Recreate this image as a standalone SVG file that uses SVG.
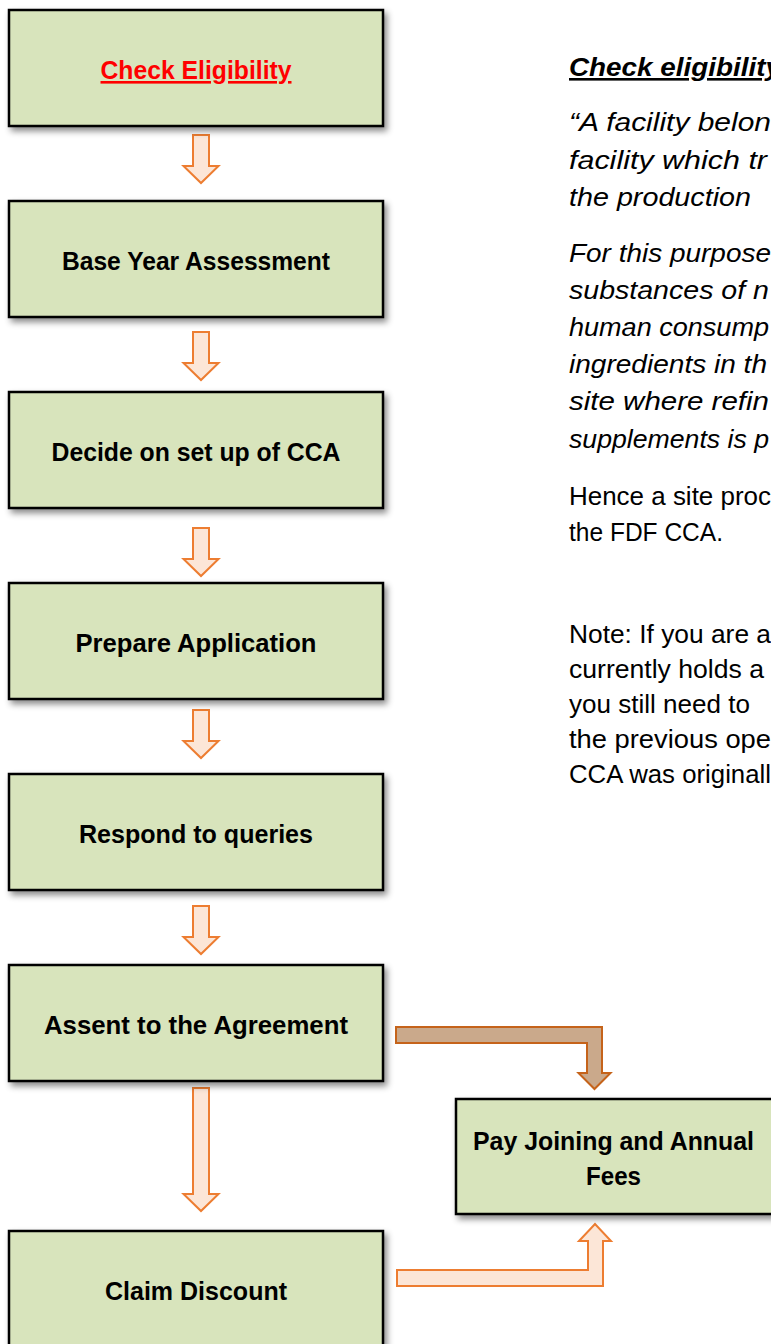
<svg xmlns="http://www.w3.org/2000/svg" xmlns:xlink="http://www.w3.org/1999/xlink" width="771" height="1344" viewBox="0 0 771 1344">
<style>
.box{fill:#d8e4bc;stroke:#000;stroke-width:2.5;filter:url(#sh)}
.lbl{font-family:"Liberation Sans",Arial,sans-serif;font-weight:bold;font-size:26px;fill:#000;text-anchor:middle}
.arr{fill:#fce6d7;stroke:#ed7d31;stroke-width:2}
.arrb{fill:#caa98b;stroke:#c5631a;stroke-width:2}
.txt{font-family:"Liberation Sans",Arial,sans-serif;font-size:26px;fill:#000}
.it{font-style:italic}
</style>
<defs>
<filter id="sh" x="-10%" y="-10%" width="130%" height="140%">
<feDropShadow dx="3" dy="4" stdDeviation="3" flood-color="#000" flood-opacity="0.45"/>
</filter>
<path id="da" d="M-8,0 H8 V31 H17.5 L0,48 L-17.5,31 H-8 Z"/>
</defs>

<g id="connectors">
<use xlink:href="#da" class="arr" x="201" y="135"/>
<use xlink:href="#da" class="arr" x="201" y="332"/>
<use xlink:href="#da" class="arr" x="201" y="528"/>
<use xlink:href="#da" class="arr" x="201" y="710"/>
<use xlink:href="#da" class="arr" x="201" y="906"/>
<path class="arr" d="M193,1088 H209 V1194 H218.5 L201,1211 L183.5,1194 H193 Z"/>
<path class="arrb" d="M396,1027 H602 V1073 H610.5 L594.5,1089 L578.5,1073 H587 V1043 H396 Z"/>
<path class="arr" d="M397,1286 H603 V1241 H611 L595,1224 L579,1241 H588 V1270 H397 Z"/>
</g>

<g id="n1"><rect class="box" x="9" y="10" width="374" height="116"/>
<text class="lbl" x="196" y="79" style="fill:#ff0000;text-decoration:underline" textLength="191" lengthAdjust="spacingAndGlyphs">Check Eligibility</text></g>
<g id="n2"><rect class="box" x="9" y="201" width="374" height="116"/>
<text class="lbl" x="196" y="270" textLength="268" lengthAdjust="spacingAndGlyphs">Base Year Assessment</text></g>
<g id="n3"><rect class="box" x="9" y="392" width="374" height="116"/>
<text class="lbl" x="196" y="461" textLength="289" lengthAdjust="spacingAndGlyphs">Decide on set up of CCA</text></g>
<g id="n4"><rect class="box" x="9" y="583" width="374" height="116"/>
<text class="lbl" x="196" y="652" textLength="241" lengthAdjust="spacingAndGlyphs">Prepare Application</text></g>
<g id="n5"><rect class="box" x="9" y="774" width="374" height="116"/>
<text class="lbl" x="196" y="843" textLength="234" lengthAdjust="spacingAndGlyphs">Respond to queries</text></g>
<g id="n6"><rect class="box" x="9" y="965" width="374" height="116"/>
<text class="lbl" x="196" y="1034" textLength="304" lengthAdjust="spacingAndGlyphs">Assent to the Agreement</text></g>
<g id="n7"><rect class="box" x="9" y="1231" width="374" height="130"/>
<text class="lbl" x="196" y="1300" textLength="182" lengthAdjust="spacingAndGlyphs">Claim Discount</text></g>
<g id="n8"><rect class="box" x="456" y="1099" width="322" height="115"/>
<text class="lbl" x="613.5" y="1150" textLength="281" lengthAdjust="spacingAndGlyphs">Pay Joining and Annual</text>
<text class="lbl" x="613.5" y="1185" textLength="55" lengthAdjust="spacingAndGlyphs">Fees</text></g>

<g id="notes">
<text class="txt it" x="569" y="76" font-weight="bold" style="text-decoration:underline" textLength="212" lengthAdjust="spacingAndGlyphs">Check eligibility</text>
<text class="txt it" x="569" y="131" textLength="202" lengthAdjust="spacingAndGlyphs">“A facility belon</text>
<text class="txt it" x="569" y="169" textLength="198" lengthAdjust="spacingAndGlyphs">facility which tr</text>
<text class="txt it" x="569" y="206" textLength="182" lengthAdjust="spacingAndGlyphs">the production</text>
<text class="txt it" x="569" y="262" textLength="202" lengthAdjust="spacingAndGlyphs">For this purpose</text>
<text class="txt it" x="569" y="299" textLength="200" lengthAdjust="spacingAndGlyphs">substances of n</text>
<text class="txt it" x="569" y="336" textLength="200" lengthAdjust="spacingAndGlyphs">human consump</text>
<text class="txt it" x="569" y="373" textLength="198" lengthAdjust="spacingAndGlyphs">ingredients in th</text>
<text class="txt it" x="569" y="410" textLength="200" lengthAdjust="spacingAndGlyphs">site where refin</text>
<text class="txt it" x="569" y="448" textLength="200" lengthAdjust="spacingAndGlyphs">supplements is p</text>
<text class="txt" x="569" y="505" textLength="202" lengthAdjust="spacingAndGlyphs">Hence a site proc</text>
<text class="txt" x="569" y="541" textLength="154" lengthAdjust="spacingAndGlyphs">the FDF CCA.</text>
<text class="txt" x="569" y="643" textLength="202" lengthAdjust="spacingAndGlyphs">Note: If you are a</text>
<text class="txt" x="569" y="678" textLength="195" lengthAdjust="spacingAndGlyphs">currently holds a</text>
<text class="txt" x="569" y="713" textLength="181" lengthAdjust="spacingAndGlyphs">you still need to</text>
<text class="txt" x="569" y="748" textLength="202" lengthAdjust="spacingAndGlyphs">the previous ope</text>
<text class="txt" x="569" y="783" textLength="202" lengthAdjust="spacingAndGlyphs">CCA was originall</text>
</g>
</svg>
